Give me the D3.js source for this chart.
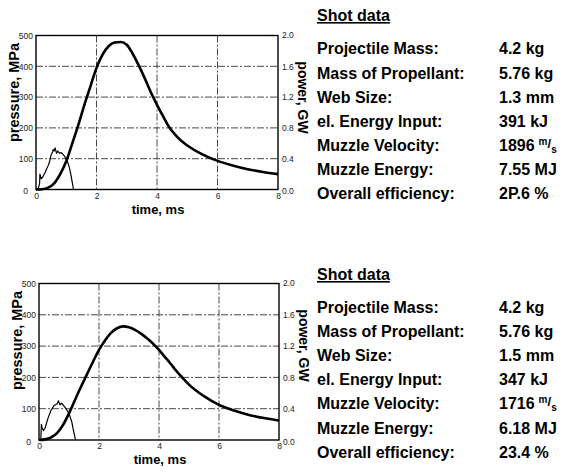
<!DOCTYPE html>
<html>
<head>
<meta charset="utf-8">
<script src="https://cdn.jsdelivr.net/npm/d3@7/dist/d3.min.js"></script>
<style>
  html, body { margin: 0; padding: 0; background: #fff; }
  svg { display: block; }
</style>
</head>
<body>
<svg id="chart" width="568" height="474"></svg>
<script>
// ---------- DATA ----------
const xTicks = [0, 2, 4, 6, 8];
const pressureTicks = [0, 100, 200, 300, 400, 500];
const powerTickLabels = ["0.0", "0.4", "0.8", "1.2", "1.6", "2.0"];
const powerTicks = [0, 0.4, 0.8, 1.2, 1.6, 2.0];

// Shot 1 (top)
const pressTime1 = [0, 0.2, 0.4, 0.6, 0.8, 1.0, 1.2, 1.4, 1.6, 1.8, 2.0, 2.2, 2.4, 2.6, 2.8, 3.0, 3.2, 3.4, 3.6, 3.8, 4.0, 4.2, 4.4, 4.6, 4.8, 5.0, 5.5, 6.0, 6.5, 7.0, 7.5, 8.0];
const pressure1 = [0, 1, 6, 20, 50, 92, 150, 210, 275, 335, 395, 438, 465, 477, 479, 470, 440, 402, 360, 315, 275, 238, 203, 178, 158, 143, 114, 93, 78, 66, 57, 50];
const powTime1 = [0, 0.08, 0.12, 0.13, 0.17, 0.22, 0.3, 0.4, 0.44, 0.5, 0.55, 0.57, 0.6, 0.63, 0.68, 0.72, 0.78, 0.83, 0.88, 0.95, 1.0, 1.05, 1.1, 1.15, 1.2, 1.24];
const power1 = [0, 0.02, 0.08, 0.2, 0.14, 0.16, 0.22, 0.31, 0.35, 0.45, 0.49, 0.52, 0.5, 0.54, 0.47, 0.5, 0.47, 0.48, 0.46, 0.43, 0.39, 0.35, 0.29, 0.2, 0.09, 0];

// Shot 2 (bottom)
const pressTime2 = [0, 0.2, 0.4, 0.6, 0.8, 1.0, 1.2, 1.4, 1.6, 1.8, 2.0, 2.2, 2.4, 2.6, 2.8, 3.0, 3.2, 3.4, 3.6, 3.8, 4.0, 4.2, 4.4, 4.6, 4.8, 5.0, 5.5, 6.0, 6.5, 7.0, 7.5, 8.0];
const pressure2 = [0, 2, 8, 22, 48, 85, 128, 170, 210, 250, 288, 318, 342, 357, 363, 360, 352, 340, 325, 308, 288, 265, 242, 218, 197, 177, 140, 112, 94, 80, 70, 62];
const powTime2 = [0, 0.06, 0.08, 0.1, 0.15, 0.2, 0.3, 0.4, 0.5, 0.6, 0.65, 0.7, 0.75, 0.8, 0.9, 1.0, 1.1, 1.15, 1.2, 1.22];
const power2 = [0, 0, 0.2, 0.16, 0.12, 0.15, 0.28, 0.38, 0.44, 0.46, 0.5, 0.45, 0.47, 0.45, 0.4, 0.34, 0.22, 0.12, 0.03, 0];

// Shot data tables
const shotLabels = ["Projectile Mass:", "Mass of Propellant:", "Web Size:", "el. Energy Input:", "Muzzle Velocity:", "Muzzle Energy:", "Overall efficiency:"];
const shotValues1 = ["4.2 kg", "5.76 kg", "1.3 mm", "391 kJ", "1896", "7.55 MJ", "2P.6 %"];
const shotValues2 = ["4.2 kg", "5.76 kg", "1.5 mm", "347 kJ", "1716", "6.18 MJ", "23.4 %"];

// ---------- DRAW ----------
const svg = d3.select("#chart");
const FONT = "'Liberation Sans', Arial, sans-serif";

function drawChart(cfg) {
  const g = svg.append("g");
  const x = d3.scaleLinear().domain([0, 8]).range([cfg.left, cfg.right]);
  const y = d3.scaleLinear().domain([0, 500]).range([cfg.bottom, cfg.top]);
  const y2 = d3.scaleLinear().domain([0, 2.0]).range([cfg.bottom, cfg.top]);

  // grid
  const gridStyle = sel => sel.attr("stroke", "#333").attr("stroke-width", 0.9)
    .attr("stroke-dasharray", "7,2,2,2");
  g.selectAll(".vg").data(xTicks.slice(1, -1)).join("line")
    .attr("x1", d => x(d)).attr("x2", d => x(d))
    .attr("y1", cfg.top).attr("y2", cfg.bottom).call(gridStyle);
  g.selectAll(".hg").data(pressureTicks.slice(1, -1)).join("line")
    .attr("x1", cfg.left).attr("x2", cfg.right)
    .attr("y1", d => y(d)).attr("y2", d => y(d)).call(gridStyle);

  // frame
  g.append("rect").attr("x", cfg.left).attr("y", cfg.top)
    .attr("width", cfg.right - cfg.left).attr("height", cfg.bottom - cfg.top)
    .attr("fill", "none").attr("stroke", "#000").attr("stroke-width", 1.4);

  // axes (ticks/labels)
  const ax = d3.axisBottom(x).tickValues(xTicks).tickSize(0).tickPadding(3).tickFormat(d3.format("d"));
  const axG = g.append("g").attr("transform", `translate(0,${cfg.bottom})`).call(ax);
  const ay = d3.axisLeft(y).tickValues(pressureTicks).tickSize(0).tickPadding(3).tickFormat(d3.format("d"));
  const ayG = g.append("g").attr("transform", `translate(${cfg.left},0)`).call(ay);
  const ay2 = d3.axisRight(y2).tickValues(powerTicks).tickSize(0).tickPadding(4)
    .tickFormat((d, i) => powerTickLabels[i]);
  const ay2G = g.append("g").attr("transform", `translate(${cfg.right},0)`).call(ay2);
  [axG, ayG, ay2G].forEach(a => {
    a.select(".domain").remove();
    a.selectAll("text").attr("font-family", FONT).attr("font-size", 8.5).attr("fill", "#222");
  });
  ayG.selectAll(".tick").filter(d => d === 0).select("text").attr("dx", -5).attr("dy", "0.5em");
  ay2G.selectAll(".tick").filter(d => d === 0).select("text").attr("dy", "0.5em");
  ay2G.selectAll(".tick").filter(d => d === 2.0).select("text").attr("dy", "0.2em");

  // curves
  const lineP = d3.line().x((d, i) => x(cfg.pt[i])).y(d => y(d)).curve(d3.curveMonotoneX);
  g.append("path").datum(cfg.p).attr("d", lineP).attr("fill", "none")
    .attr("stroke", "#000").attr("stroke-width", 2.6).attr("stroke-linejoin", "round");
  const lineW = d3.line().x((d, i) => x(cfg.wt[i])).y(d => y2(d));
  g.append("path").datum(cfg.w).attr("d", lineW).attr("fill", "none")
    .attr("stroke", "#000").attr("stroke-width", 1.2).attr("stroke-linejoin", "round");

  // axis titles
  g.append("text").attr("x", (cfg.left + cfg.right) / 2 + 1).attr("y", cfg.bottom + 24)
    .attr("text-anchor", "middle").attr("font-family", FONT).attr("font-weight", "bold")
    .attr("font-size", 13).text("time, ms");
  g.append("text").attr("transform", `translate(${cfg.left - 17},${cfg.top + 57}) rotate(-90)`)
    .attr("text-anchor", "middle").attr("font-family", FONT).attr("font-weight", "bold")
    .attr("font-size", 14.5).text("pressure, MPa");
  g.append("text").attr("transform", `translate(${cfg.right + 20},${cfg.top + 62}) rotate(90)`)
    .attr("text-anchor", "middle").attr("font-family", FONT).attr("font-weight", "bold")
    .attr("font-size", 14).text("power, GW");
}

function drawTable(values, titleBase, rowBases) {
  const g = svg.append("g").attr("font-family", FONT).attr("font-weight", "bold").attr("fill", "#000");
  g.append("text").attr("x", 317).attr("y", titleBase).attr("font-size", 16)
    .attr("text-decoration", "underline").text("Shot data");
  g.selectAll(".lab").data(shotLabels).join("text")
    .attr("x", 317).attr("y", (d, i) => rowBases[i]).attr("font-size", 16).text(d => d);
  const vals = g.selectAll(".val").data(values).join("text")
    .attr("x", 499).attr("y", (d, i) => rowBases[i]).attr("font-size", 16);
  vals.each(function(d, i) {
    const t = d3.select(this);
    t.append("tspan").text(d);
    if (i === 4) {
      t.append("tspan").attr("font-size", 10).attr("dy", -6).attr("dx", 4).text("m");
      t.append("tspan").attr("font-size", 13).attr("dy", 3).text("/");
      t.append("tspan").attr("font-size", 10).attr("dy", 5).text("s");
    }
  });
}

drawChart({ left: 36, right: 278, top: 35.5, bottom: 189.5, pt: pressTime1, p: pressure1, wt: powTime1, w: power1 });
drawChart({ left: 39, right: 279, top: 283.5, bottom: 440, pt: pressTime2, p: pressure2, wt: powTime2, w: power2 });

drawTable(shotValues1, 21, [54, 78.5, 102.5, 126.5, 151, 175, 199]);
drawTable(shotValues2, 280, [312.5, 337, 361, 385.3, 409.3, 433.7, 457.7]);
</script>
</body>
</html>
